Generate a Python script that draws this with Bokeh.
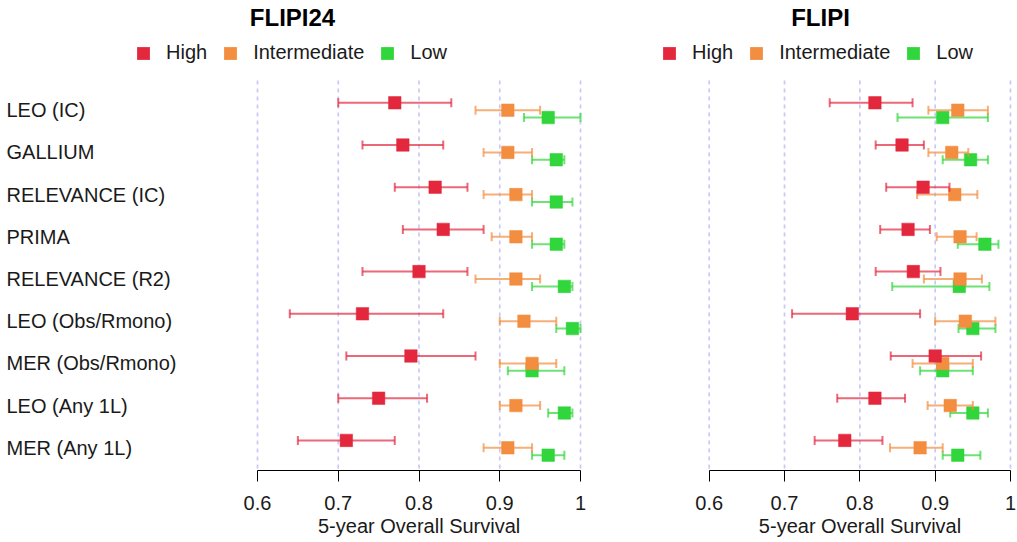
import math
from bokeh.plotting import figure
from bokeh.layouts import row
from bokeh.models import (ColumnDataSource, Range1d, FixedTicker, Legend,
                          LegendItem, Label, Title)
from bokeh.core.properties import value
from bokeh.embed import file_html
from bokeh.resources import INLINE

NaN = float("nan")

# ---------------- data ----------------
studies = ["LEO (IC)", "GALLIUM", "RELEVANCE (IC)", "PRIMA", "RELEVANCE (R2)",
           "LEO (Obs/Rmono)", "MER (Obs/Rmono)", "LEO (Any 1L)", "MER (Any 1L)"]
groups = ["High", "Intermediate", "Low"]

# FLIPI24 panel
flipi24_high    = [0.77, 0.78, 0.82, 0.83, 0.80, 0.73, 0.79, 0.75, 0.71]
flipi24_high_lo = [0.70, 0.73, 0.77, 0.78, 0.73, 0.64, 0.71, 0.70, 0.65]
flipi24_high_hi = [0.84, 0.83, 0.86, 0.88, 0.86, 0.83, 0.87, 0.81, 0.77]
flipi24_int     = [0.91, 0.91, 0.92, 0.92, 0.92, 0.93, 0.94, 0.92, 0.91]
flipi24_int_lo  = [0.87, 0.88, 0.88, 0.89, 0.87, 0.90, 0.90, 0.90, 0.88]
flipi24_int_hi  = [0.95, 0.94, 0.94, 0.94, 0.95, 0.97, 0.97, 0.95, 0.94]
flipi24_low     = [0.96, 0.97, 0.97, 0.97, 0.98, 0.99, 0.94, 0.98, 0.96]
flipi24_low_lo  = [0.93, 0.94, 0.94, 0.94, 0.94, 0.97, 0.91, 0.96, 0.94]
flipi24_low_hi  = [1.00, 0.98, 0.99, 0.98, 0.99, 1.00, 0.98, 0.99, 0.98]

# FLIPI panel
flipi_high    = [0.82, 0.856, 0.884, 0.864, 0.871, 0.79, 0.90, 0.82, 0.78]
flipi_high_lo = [0.76, 0.821, 0.835, 0.827, 0.821, 0.71, 0.841, 0.77, 0.74]
flipi_high_hi = [0.87, 0.885, 0.919, 0.893, 0.907, 0.88, 0.961, 0.86, 0.83]
flipi_int     = [0.93, 0.922, 0.926, 0.933, 0.933, 0.94, 0.91, 0.92, 0.88]
flipi_int_lo  = [0.891, 0.891, 0.876, 0.902, 0.885, 0.90, 0.87, 0.89, 0.84]
flipi_int_hi  = [0.97, 0.944, 0.956, 0.955, 0.962, 0.98, 0.95, 0.95, 0.91]
flipi_low     = [0.91, 0.947, NaN, 0.966, 0.932, 0.95, 0.91, 0.95, 0.93]
flipi_low_lo  = [0.85, 0.91, NaN, 0.93, 0.843, 0.931, 0.88, 0.92, 0.91]
flipi_low_hi  = [0.97, 0.97, NaN, 0.984, 0.972, 0.98, 0.95, 0.97, 0.96]

x_ticks = [0.6, 0.7, 0.8, 0.9, 1.0]
x_tick_labels = ["0.6", "0.7", "0.8", "0.9", "1"]
axis_title = "5-year Overall Survival"
panel_titles = ["FLIPI24", "FLIPI"]

# ---------------- style / layout ----------------
colors = {"High": "#E3283E", "Intermediate": "#F38D3F", "Low": "#30D63B"}
offsets = {"High": -0.175, "Intermediate": 0.0, "Low": 0.175}
FONT = "Liberation Sans"
TXT = "#1a1a1a"
FIG_H = 541
FRAME_H = 470
ROW_PX = 42.2
FIRST_ROW_PX = 109.7   # row 1 centre, px from figure top
AXIS_TITLE_W = 202     # rendered width of the axis title text


def px_to_row(px):
    return 1 + (px - FIRST_ROW_PX) / ROW_PX


Y_TOP = px_to_row(0)
Y_BOT = px_to_row(FRAME_H)
GRID_TOP = px_to_row(80)


def make_panel(title, series, width, px06, px10, title_cx, legend_x, labels):
    ppu = (px10 - px06) / 0.4
    xs = 0.6 - px06 / ppu
    xe = xs + width / ppu
    p = figure(width=width, height=FIG_H, x_range=Range1d(xs, xe),
               y_range=Range1d(Y_BOT, Y_TOP), y_axis_location=None,
               output_backend="svg", toolbar_location=None,
               min_border_left=0, min_border_right=0, min_border_top=0,
               min_border_bottom=FIG_H - FRAME_H)
    p.outline_line_color = None
    p.grid.visible = False
    p.background_fill_color = "white"
    p.border_fill_color = "white"

    # dashed grid lines
    p.segment(x0=x_ticks, x1=x_ticks, y0=GRID_TOP, y1=Y_BOT,
              line_color="#c8c8f7", line_width=1.7, line_dash="4 4")

    for g in ["Low", "Intermediate", "High"]:
        est, lo, hi = series[g]
        keep = [i for i in range(len(studies)) if not math.isnan(est[i])]
        src = ColumnDataSource(dict(
            y=[i + 1 + offsets[g] for i in keep],
            est=[est[i] for i in keep],
            lo=[lo[i] for i in keep],
            hi=[hi[i] for i in keep]))
        c = colors[g]
        p.segment(x0="lo", x1="hi", y0="y", y1="y", source=src,
                  line_color=c, line_width=2, line_alpha=0.7)
        for col in ("lo", "hi"):
            p.scatter(x=col, y="y", source=src, marker="dash",
                      angle=math.pi / 2, size=9, line_color=c,
                      line_width=2, line_alpha=0.7)
        p.scatter(x="est", y="y", source=src, marker="square", size=12.5,
                  fill_color=c, line_color=c, line_alpha=0.5)

    # legend proxies (one off-screen NaN entry so the legend swatch is drawn)
    items = []
    for g in groups:
        r = p.quad(left=[NaN], right=[NaN], top=[NaN], bottom=[NaN],
                   fill_color=colors[g], line_color=None)
        items.append(LegendItem(label=g, renderers=[r]))
    leg = Legend(items=items, orientation="horizontal",
                 location=(legend_x, 406),
                 label_text_font=FONT, label_text_font_size="20px",
                 label_text_color=TXT, glyph_width=16, glyph_height=16,
                 label_standoff=15, spacing=15, padding=0, margin=0,
                 label_height=20, border_line_color=None,
                 background_fill_alpha=0)
    p.add_layout(leg)

    p.add_layout(Label(x=xs + title_cx / ppu, y=px_to_row(17), text=title,
                       text_align="center", text_baseline="middle",
                       text_font=FONT, text_font_size="24px",
                       text_font_style="bold", text_color="black"))

    if labels:
        lsrc = ColumnDataSource(dict(study=studies,
                                     row=list(range(1, len(studies) + 1))))
        p.text(x=xs + 6 / ppu, y="row", text="study", source=lsrc,
               text_font=value(FONT), text_font_size="20px",
               text_align="left", text_baseline="middle", text_color=TXT)

    ax = p.xaxis[0]
    ax.ticker = FixedTicker(ticks=x_ticks)
    ax.bounds = (0.6, 1.0)
    ax.major_label_overrides = {t: l for t, l in zip(x_ticks, x_tick_labels)}
    ax.minor_tick_line_color = None
    ax.major_tick_out = 11
    ax.major_tick_in = 0
    ax.axis_line_color = "black"
    ax.major_tick_line_color = "black"
    ax.major_label_text_font = FONT
    ax.major_label_text_font_size = "20px"
    ax.major_label_text_color = TXT
    ax.major_label_standoff = 14

    # axis title centred under the bounded axis (0.6 .. 1.0)
    centre = (px06 + px10) / 2
    p.add_layout(Title(text=axis_title, align="left",
                       offset=centre - AXIS_TITLE_W / 2, standoff=0,
                       text_font=FONT, text_font_size="20px",
                       text_font_style="normal", text_color=TXT), "below")
    return p


p1 = make_panel(panel_titles[0],
                {"High": (flipi24_high, flipi24_high_lo, flipi24_high_hi),
                 "Intermediate": (flipi24_int, flipi24_int_lo, flipi24_int_hi),
                 "Low": (flipi24_low, flipi24_low_lo, flipi24_low_hi)},
                width=600, px06=257, px10=580, title_cx=292, legend_x=135,
                labels=True)
p2 = make_panel(panel_titles[1],
                {"High": (flipi_high, flipi_high_lo, flipi_high_hi),
                 "Intermediate": (flipi_int, flipi_int_lo, flipi_int_hi),
                 "Low": (flipi_low, flipi_low_lo, flipi_low_hi)},
                width=417, px06=108.7, px10=410, title_cx=220, legend_x=61,
                labels=False)

layout = row(p1, p2)
open("out.html", "w").write(file_html(layout, INLINE))
